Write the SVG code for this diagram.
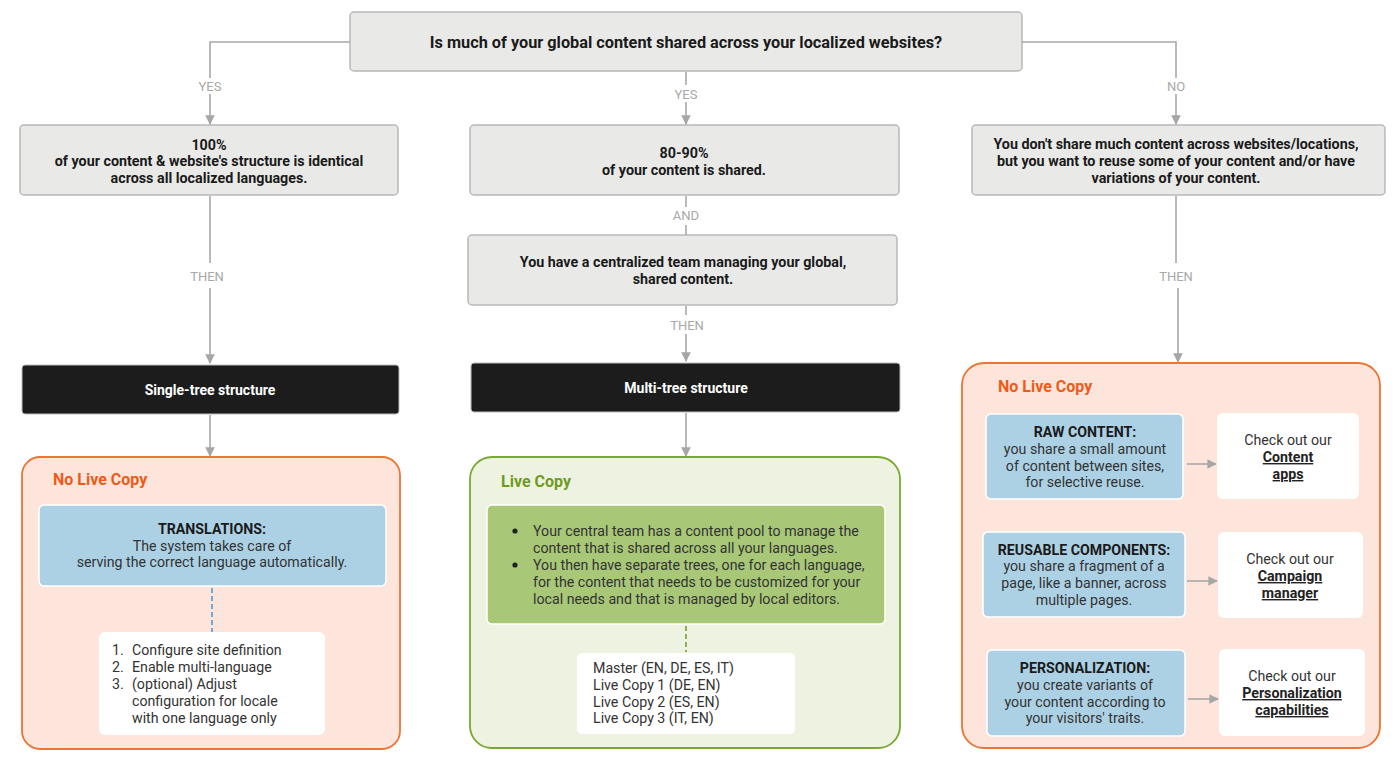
<svg xmlns="http://www.w3.org/2000/svg" width="1400" height="760" viewBox="0 0 1400 760">
<defs>
<marker id="arr" viewBox="0 0 10 10" refX="9" refY="5" markerWidth="6" markerHeight="6" orient="auto" markerUnits="strokeWidth">
<path d="M0,0 L10,5 L0,10 z" fill="#a6a6a6"/>
</marker>
<style>
text{font-family:Roboto,"Liberation Sans",Arial,sans-serif;}
.q{fill:#e9eae8;stroke:#b8b8b8;stroke-width:1.5;}
.qt{font-size:14.3px;font-weight:700;fill:#1a1a1a;text-anchor:middle;}
.blk{fill:#1c1c1c;stroke:#bdbdbd;stroke-width:1;}
.bt{font-size:14px;font-weight:700;fill:#ffffff;text-anchor:middle;}
.lbl{font-size:13px;fill:#a8a8a8;text-anchor:middle;}
.con{fill:none;stroke:#a8a8a8;stroke-width:1.6;}
.orange{fill:#fde5db;stroke:#ee7434;stroke-width:1.8;}
.green{fill:#eef3e1;stroke:#79a833;stroke-width:1.8;}
.otitle{font-size:16px;font-weight:700;fill:#f05a19;}
.gtitle{font-size:16px;font-weight:700;fill:#6e9b22;}
.blue{fill:#acd1e5;stroke:#ffffff;stroke-width:1.5;}
.gbox{fill:#a8c878;stroke:#ffffff;stroke-width:1.5;}
.white{fill:#ffffff;}
.t{font-size:14.2px;fill:#333333;}
.tc{font-size:14.2px;fill:#333333;text-anchor:middle;}
.tb{font-size:14.2px;font-weight:700;fill:#1a1a1a;text-anchor:middle;}
.lnk{font-size:14.2px;font-weight:700;fill:#222222;text-anchor:middle;text-decoration:underline;}
</style>
</defs>

<g id="question">
<rect class="q" x="350" y="12" width="672" height="59" rx="4"/>
<text class="qt" x="686" y="48" style="font-size:16.3px">Is much of your global content shared across your localized websites?</text>
</g>

<g id="left-condition">
<rect class="q" x="20" y="125" width="378" height="70" rx="4"/>
<text class="qt" x="209" y="150">100%</text>
<text class="qt" x="209" y="166">of your content &amp; website's structure is identical</text>
<text class="qt" x="209" y="183">across all localized languages.</text>
</g>

<g id="center-condition">
<rect class="q" x="470" y="125" width="429" height="70" rx="4"/>
<text class="qt" x="684" y="158">80-90%</text>
<text class="qt" x="684" y="175">of your content is shared.</text>
</g>

<g id="center-condition-2">
<rect class="q" x="468" y="235" width="429" height="70" rx="4"/>
<text class="qt" x="683" y="267">You have a centralized team managing your global,</text>
<text class="qt" x="683" y="284">shared content.</text>
</g>

<g id="right-condition">
<rect class="q" x="972" y="125" width="413" height="70" rx="4"/>
<text class="qt" x="1176" y="149">You don't share much content across websites/locations,</text>
<text class="qt" x="1176" y="166">but you want to reuse some of your content and/or have</text>
<text class="qt" x="1176" y="183">variations of your content.</text>
</g>

<g id="single-tree">
<rect class="blk" x="22" y="365" width="377" height="49" rx="3"/>
<text class="bt" x="210" y="395">Single-tree structure</text>
</g>

<g id="multi-tree">
<rect class="blk" x="471" y="363" width="429" height="49" rx="3"/>
<text class="bt" x="686" y="393">Multi-tree structure</text>
</g>

<g id="left-container">
<rect class="orange" x="22" y="457" width="378" height="292" rx="18"/>
<text class="otitle" x="53" y="485">No Live Copy</text>
</g>

<g id="translations">
<rect class="blue" x="39" y="505" width="347" height="81" rx="5"/>
<text class="tb" x="212" y="534">TRANSLATIONS:</text>
<text class="tc" x="212" y="551">The system takes care of</text>
<text class="tc" x="212" y="567">serving the correct language automatically.</text>
</g>

<g id="steps">
<rect class="white" x="99" y="632" width="226" height="103" rx="6"/>
<text class="t" x="112" y="655">1.</text><text class="t" x="132" y="655">Configure site definition</text>
<text class="t" x="112" y="672">2.</text><text class="t" x="132" y="672">Enable multi-language</text>
<text class="t" x="112" y="689">3.</text><text class="t" x="132" y="689">(optional) Adjust</text>
<text class="t" x="132" y="706">configuration for locale</text>
<text class="t" x="132" y="723">with one language only</text>
</g>

<g id="center-container">
<rect class="green" x="470" y="457" width="430" height="291" rx="22"/>
<text class="gtitle" x="501" y="487">Live Copy</text>
</g>

<g id="live-copy-info">
<rect class="gbox" x="487" y="505" width="398" height="119" rx="5"/>
<circle cx="515" cy="531" r="2.6" fill="#222"/>
<circle cx="515" cy="565" r="2.6" fill="#222"/>
<text class="t" x="533" y="536">Your central team has a content pool to manage the</text>
<text class="t" x="533" y="553">content that is shared across all your languages.</text>
<text class="t" x="533" y="570">You then have separate trees, one for each language,</text>
<text class="t" x="533" y="587">for the content that needs to be customized for your</text>
<text class="t" x="533" y="604">local needs and that is managed by local editors.</text>
</g>

<g id="live-copy-list">
<rect class="white" x="577" y="653" width="218" height="81" rx="5"/>
<text class="t" x="593" y="673">Master (EN, DE, ES, IT)</text>
<text class="t" x="593" y="690">Live Copy 1 (DE, EN)</text>
<text class="t" x="593" y="707">Live Copy 2 (ES, EN)</text>
<text class="t" x="593" y="723">Live Copy 3 (IT, EN)</text>
</g>

<g id="right-container">
<rect class="orange" x="962" y="363" width="418" height="385" rx="22"/>
<text class="otitle" x="998" y="392">No Live Copy</text>
</g>

<g id="raw-content">
<rect class="blue" x="986" y="414" width="197" height="85" rx="5"/>
<text class="tb" x="1085" y="437">RAW CONTENT:</text>
<text class="tc" x="1085" y="454">you share a small amount</text>
<text class="tc" x="1085" y="471">of content between sites,</text>
<text class="tc" x="1085" y="487">for selective reuse.</text>
</g>
<g id="content-apps">
<rect class="white" x="1217" y="413" width="142" height="86" rx="6"/>
<text class="tc" x="1288" y="445">Check out our</text>
<text class="lnk" x="1288" y="462">Content</text>
<text class="lnk" x="1288" y="479">apps</text>
</g>

<g id="reusable-components">
<rect class="blue" x="983" y="532" width="202" height="85" rx="5"/>
<text class="tb" x="1084" y="555">REUSABLE COMPONENTS:</text>
<text class="tc" x="1084" y="571">you share a fragment of a</text>
<text class="tc" x="1084" y="588">page, like a banner, across</text>
<text class="tc" x="1084" y="605">multiple pages.</text>
</g>
<g id="campaign-manager">
<rect class="white" x="1218" y="532" width="145" height="86" rx="6"/>
<text class="tc" x="1290" y="564">Check out our</text>
<text class="lnk" x="1290" y="581">Campaign</text>
<text class="lnk" x="1290" y="598">manager</text>
</g>

<g id="personalization">
<rect class="blue" x="987" y="650" width="198" height="86" rx="5"/>
<text class="tb" x="1085" y="673">PERSONALIZATION:</text>
<text class="tc" x="1085" y="690">you create variants of</text>
<text class="tc" x="1085" y="707">your content according to</text>
<text class="tc" x="1085" y="723">your visitors' traits.</text>
</g>
<g id="personalization-capabilities">
<rect class="white" x="1219" y="649" width="146" height="87" rx="6"/>
<text class="tc" x="1292" y="681">Check out our</text>
<text class="lnk" x="1292" y="698">Personalization</text>
<text class="lnk" x="1292" y="715">capabilities</text>
</g>

<g id="connectors">
<path class="con" d="M350,42 H210 V78"/>
<path class="con" d="M210,94 V124" marker-end="url(#arr)"/>
<text class="lbl" x="210" y="91">YES</text>
<path class="con" d="M686,72 V85"/>
<path class="con" d="M686,102 V124" marker-end="url(#arr)"/>
<text class="lbl" x="686" y="99">YES</text>
<path class="con" d="M1022,42 H1176 V78"/>
<path class="con" d="M1176,94 V124" marker-end="url(#arr)"/>
<text class="lbl" x="1176" y="91">NO</text>

<path class="con" d="M210,196 V263"/>
<path class="con" d="M210,288 V363" marker-end="url(#arr)"/>
<text class="lbl" x="207" y="281">THEN</text>
<path class="con" d="M210,415 V456" marker-end="url(#arr)"/>

<path class="con" d="M686,196 V207"/>
<path class="con" d="M686,225 V235"/>
<text class="lbl" x="686" y="220">AND</text>
<path class="con" d="M686,306 V315"/>
<path class="con" d="M686,334 V361" marker-end="url(#arr)"/>
<text class="lbl" x="687" y="330">THEN</text>
<path class="con" d="M686,413 V456" marker-end="url(#arr)"/>

<path class="con" d="M1176,196 V263"/>
<path class="con" d="M1178,288 V362" marker-end="url(#arr)"/>
<text class="lbl" x="1176" y="281">THEN</text>

<path d="M212,588 V632" fill="none" stroke="#3b9ad6" stroke-width="1.5" stroke-dasharray="5,3"/>
<path d="M686,626 V652" fill="none" stroke="#6e9b22" stroke-width="1.5" stroke-dasharray="5,3"/>

<path class="con" d="M1187,464 H1216" marker-end="url(#arr)"/>
<path class="con" d="M1187,581 H1217" marker-end="url(#arr)"/>
<path class="con" d="M1188,699 H1218" marker-end="url(#arr)"/>
</g>
</svg>
